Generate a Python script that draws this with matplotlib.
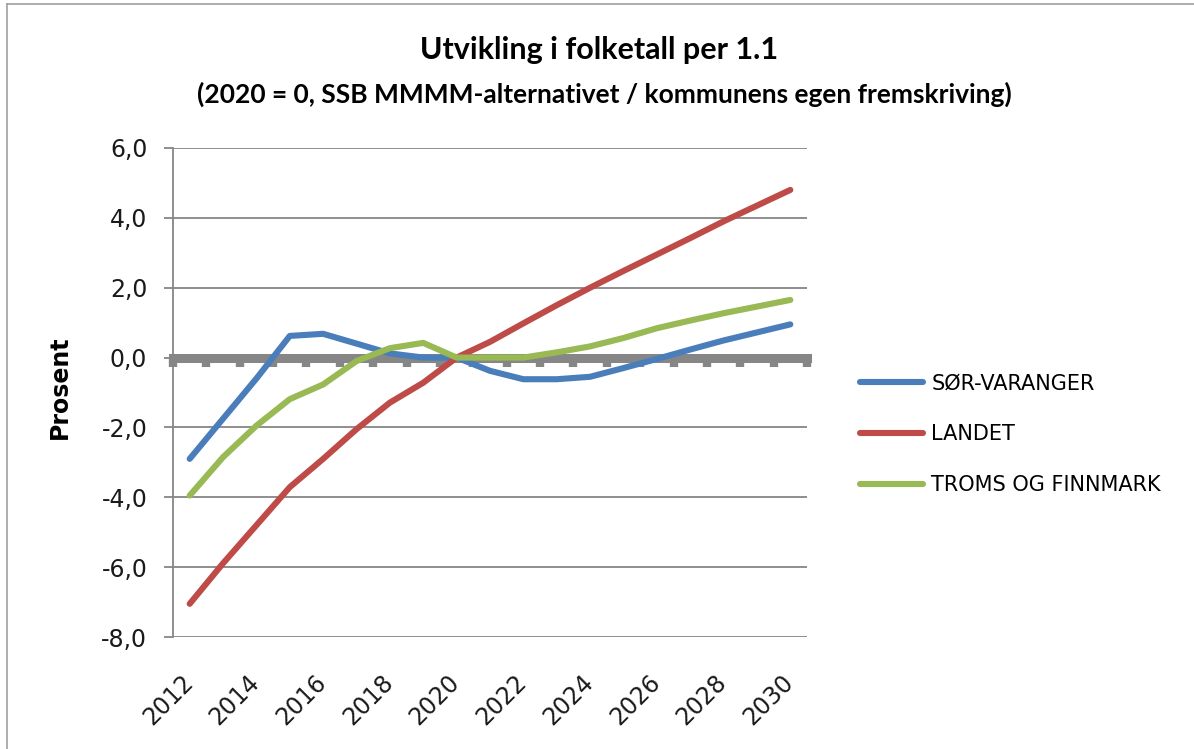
import matplotlib
matplotlib.use("Agg")
import matplotlib.pyplot as plt
from matplotlib.ticker import FixedLocator, FuncFormatter
from matplotlib.transforms import ScaledTranslation

years = list(range(2012, 2031))
sor_varanger = [-2.90, -1.75, -0.60, 0.62, 0.68, 0.40, 0.12, 0.00, 0.00, -0.38, -0.62,
                -0.62, -0.55, -0.30, -0.04, 0.23, 0.49, 0.72, 0.95]
landet = [-7.05, -5.89, -4.80, -3.71, -2.90, -2.05, -1.29, -0.72, 0.00, 0.45, 0.98,
          1.50, 2.00, 2.48, 2.95, 3.42, 3.90, 4.35, 4.80]
troms_finnmark = [-3.95, -2.85, -1.95, -1.19, -0.77, -0.10, 0.27, 0.42, 0.00, 0.00, 0.00,
                  0.15, 0.32, 0.56, 0.84, 1.06, 1.27, 1.46, 1.65]
series_names = ["SØR-VARANGER", "LANDET", "TROMS OG FINNMARK"]
colors = ["#4A7EBB", "#BE4B48", "#98B954"]
yticks = [-8, -6, -4, -2, 0, 2, 4, 6]
xlabel_years = list(range(2012, 2031, 2))

title = "Utvikling i folketall per 1.1"
subtitle = "(2020 = 0, SSB MMMM-alternativet / kommunens egen fremskriving)"
ylabel = "Prosent"

grey = "#868686"
fig = plt.figure(figsize=(11.94, 7.49), dpi=100)
ax = fig.add_axes([173/1194, 1 - 637/749, (807-173)/1194, (637-148)/749])

for vals, name, c in zip([sor_varanger, landet, troms_finnmark], series_names, colors):
    ax.plot(years, vals, color=c, lw=4.4, label=name, solid_capstyle="round",
            solid_joinstyle="round", zorder=3)

ax.set_xlim(2011.5, 2030.5)
ax.set_ylim(-8, 6)
ax.yaxis.set_major_locator(FixedLocator(yticks))
ax.yaxis.set_major_formatter(FuncFormatter(lambda v, p: f"{v:.1f}".replace(".", ",")))
ax.grid(axis="y", color=grey, lw=1.3)
ax.set_axisbelow(True)

for s in ["top", "right"]:
    ax.spines[s].set_visible(False)
ax.spines["left"].set_color(grey)
ax.spines["left"].set_linewidth(1.3)
ax.spines["bottom"].set_position(("data", 0))
ax.spines["bottom"].set_color(grey)
ax.spines["bottom"].set_linewidth(6.5)
ax.spines["bottom"].set_zorder(2)

ax.xaxis.set_major_locator(FixedLocator([y + 0.5 for y in range(2011, 2031)]))
ax.tick_params(axis="x", direction="out", length=6.3, width=6, color=grey,
               labelbottom=False)
ax.tick_params(axis="y", direction="out", length=6.5, width=1.3, color=grey,
               labelsize=17, pad=12, labelcolor="#1a1a1a")

sec = ax.secondary_xaxis("bottom")
sec.spines["bottom"].set_visible(False)
sec.xaxis.set_major_locator(FixedLocator(xlabel_years))
sec.xaxis.set_major_formatter(FuncFormatter(lambda v, p: f"{int(round(v))}"))
sec.tick_params(axis="x", length=0, labelsize=17, pad=24, labelcolor="#1a1a1a")
for lab in sec.get_xticklabels():
    lab.set_rotation(45)
    lab.set_ha("right")
    lab.set_va("top")
    lab.set_transform(lab.get_transform() + ScaledTranslation(8/100, 0, fig.dpi_scale_trans))

ax.set_ylabel(ylabel, fontsize=17, fontweight="bold")
ax.yaxis.set_label_coords(-0.16, 0.51)

fig.text(0.502, 1 - 50/749, title, ha="center", va="center", fontsize=22,
         fontweight="bold", family="Lato")
fig.text(0.506, 1 - 94/749, subtitle, ha="center", va="center", fontsize=19,
         fontweight="bold", family="Lato")

leg = fig.legend(loc="upper left", bbox_to_anchor=(852/1194, 1 - 365/749), frameon=False,
                 fontsize=15, handlelength=3.0, handletextpad=0.4, labelspacing=1.49,
                 borderaxespad=0)
for h in leg.get_lines():
    h.set_linewidth(4.4)

fig.add_artist(plt.Line2D([7/1194, 7/1194], [0, 1 - 4/749], color="#a0a0a0", lw=1.2,
                          transform=fig.transFigure))
fig.add_artist(plt.Line2D([7/1194, 1], [1 - 4/749, 1 - 4/749], color="#a0a0a0", lw=1.2,
                          transform=fig.transFigure))

fig.savefig("out.png", dpi=100)
